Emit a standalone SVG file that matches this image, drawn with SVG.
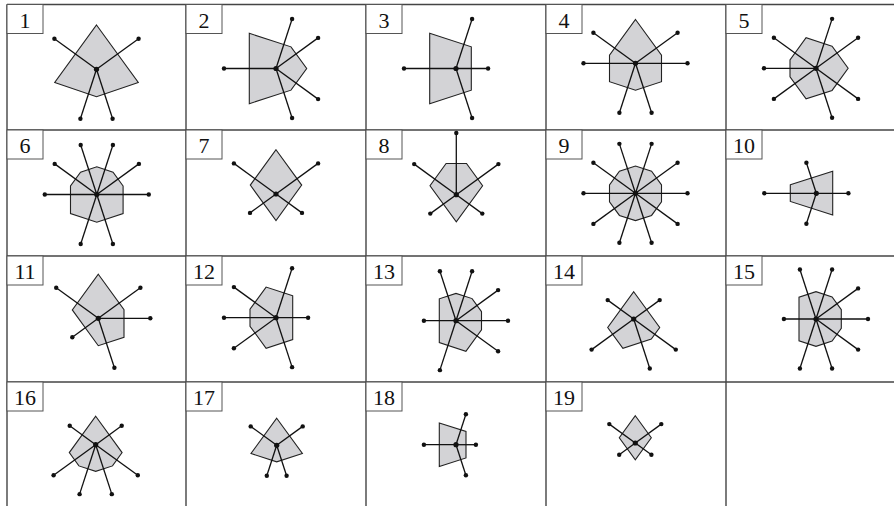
<svg xmlns="http://www.w3.org/2000/svg" width="894" height="506" viewBox="0 0 894 506">
<style>
.grid{stroke:#444;stroke-width:1.4;fill:none}
.lab{fill:#fff;stroke:#555;stroke-width:1}
.num{font-family:"Liberation Serif","Times New Roman",serif;font-size:22px;fill:#111;text-anchor:middle}
.poly{fill:#d3d3d6;stroke:#222;stroke-width:1.1;stroke-linejoin:miter}
.sp line{stroke:#111;stroke-width:1.3}
.dot{fill:#111}
</style>
<rect width="894" height="506" fill="#fff"/>
<g id="grid">
<line class="grid" x1="7" y1="4.5" x2="894" y2="4.5"/>
<line class="grid" x1="7" y1="130" x2="894" y2="130"/>
<line class="grid" x1="7" y1="256" x2="894" y2="256"/>
<line class="grid" x1="7" y1="382" x2="894" y2="382"/>
<line class="grid" x1="7" y1="4.5" x2="7" y2="506"/>
<line class="grid" x1="186" y1="4.5" x2="186" y2="506"/>
<line class="grid" x1="366" y1="4.5" x2="366" y2="506"/>
<line class="grid" x1="546" y1="4.5" x2="546" y2="506"/>
<line class="grid" x1="726" y1="4.5" x2="726" y2="506"/>
</g>

<g id="cell-1">
<rect class="lab" x="7" y="4.5" width="36" height="29"/><text class="num" x="25" y="27.5">1</text>
<polygon class="poly" points="96.5,25 138.3,82.5 96.5,96.7 54.7,82.5"/>
<g class="sp"><line x1="96.5" y1="69.3" x2="54.4" y2="38.7"/><line x1="96.5" y1="69.3" x2="138.6" y2="38.7"/><line x1="96.5" y1="69.3" x2="80.4" y2="118.8"/><line x1="96.5" y1="69.3" x2="112.6" y2="118.8"/></g>
<g class="dot"><circle cx="96.5" cy="69.3" r="2.6"/><circle cx="54.4" cy="38.7" r="2.2"/><circle cx="138.6" cy="38.7" r="2.2"/><circle cx="80.4" cy="118.8" r="2.2"/><circle cx="112.6" cy="118.8" r="2.2"/></g>
</g>

<g id="cell-2">
<rect class="lab" x="186" y="4.5" width="36" height="29"/><text class="num" x="204" y="27.5">2</text>
<polygon class="poly" points="249.3,33.3 291,46.85 306.7,68.5 291,90.15 249.3,103.7"/>
<g class="sp"><line x1="276" y1="68.5" x2="292.1" y2="19.05"/><line x1="276" y1="68.5" x2="318.1" y2="37.9"/><line x1="276" y1="68.5" x2="224" y2="68.5"/><line x1="276" y1="68.5" x2="318.1" y2="99.1"/><line x1="276" y1="68.5" x2="292.1" y2="117.95"/></g>
<g class="dot"><circle cx="276" cy="68.5" r="2.6"/><circle cx="292.1" cy="19.05" r="2.2"/><circle cx="318.1" cy="37.9" r="2.2"/><circle cx="224" cy="68.5" r="2.2"/><circle cx="318.1" cy="99.1" r="2.2"/><circle cx="292.1" cy="117.95" r="2.2"/></g>
</g>

<g id="cell-3">
<rect class="lab" x="366" y="4.5" width="36" height="29"/><text class="num" x="384" y="27.5">3</text>
<polygon class="poly" points="429.7,33.3 471.3,46.8 471.3,90.2 429.7,103.7"/>
<g class="sp"><line x1="456" y1="68.5" x2="472.1" y2="19.05"/><line x1="456" y1="68.5" x2="404" y2="68.5"/><line x1="456" y1="68.5" x2="488.1" y2="68.5"/><line x1="456" y1="68.5" x2="472.1" y2="117.95"/></g>
<g class="dot"><circle cx="456" cy="68.5" r="2.6"/><circle cx="472.1" cy="19.05" r="2.2"/><circle cx="404" cy="68.5" r="2.2"/><circle cx="488.1" cy="68.5" r="2.2"/><circle cx="472.1" cy="117.95" r="2.2"/></g>
</g>

<g id="cell-4">
<rect class="lab" x="546" y="4.5" width="36" height="29"/><text class="num" x="564" y="27.5">4</text>
<polygon class="poly" points="635.5,19.5 661.5,55.3 661.5,81.7 635.5,90.2 609.5,81.7 609.5,55.3"/>
<g class="sp"><line x1="635.5" y1="63.3" x2="593.4" y2="32.7"/><line x1="635.5" y1="63.3" x2="677.6" y2="32.7"/><line x1="635.5" y1="63.3" x2="583.5" y2="63.3"/><line x1="635.5" y1="63.3" x2="687.5" y2="63.3"/><line x1="635.5" y1="63.3" x2="619.4" y2="112.8"/><line x1="635.5" y1="63.3" x2="651.6" y2="112.8"/></g>
<g class="dot"><circle cx="635.5" cy="63.3" r="2.6"/><circle cx="593.4" cy="32.7" r="2.2"/><circle cx="677.6" cy="32.7" r="2.2"/><circle cx="583.5" cy="63.3" r="2.2"/><circle cx="687.5" cy="63.3" r="2.2"/><circle cx="619.4" cy="112.8" r="2.2"/><circle cx="651.6" cy="112.8" r="2.2"/></g>
</g>

<g id="cell-5">
<rect class="lab" x="726" y="4.5" width="36" height="29"/><text class="num" x="744" y="27.5">5</text>
<polygon class="poly" points="832.07,46.18 806.07,37.73 790,59.85 790,76.75 806.07,98.87 832.07,90.42 848.14,68.3"/>
<g class="sp"><line x1="816" y1="68.3" x2="832.1" y2="18.85"/><line x1="816" y1="68.3" x2="773.9" y2="37.7"/><line x1="816" y1="68.3" x2="858.1" y2="37.7"/><line x1="816" y1="68.3" x2="764" y2="68.3"/><line x1="816" y1="68.3" x2="773.9" y2="98.9"/><line x1="816" y1="68.3" x2="858.1" y2="98.9"/><line x1="816" y1="68.3" x2="832.1" y2="117.75"/></g>
<g class="dot"><circle cx="816" cy="68.3" r="2.6"/><circle cx="832.1" cy="18.85" r="2.2"/><circle cx="773.9" cy="37.7" r="2.2"/><circle cx="858.1" cy="37.7" r="2.2"/><circle cx="764" cy="68.3" r="2.2"/><circle cx="773.9" cy="98.9" r="2.2"/><circle cx="858.1" cy="98.9" r="2.2"/><circle cx="832.1" cy="117.75" r="2.2"/></g>
</g>

<g id="cell-6">
<rect class="lab" x="7" y="130" width="36" height="29"/><text class="num" x="25" y="153">6</text>
<polygon class="poly" points="123.1,185.96 113.05,172.13 96.8,166.85 80.55,172.13 70.5,185.96 70.5,213.61 96.8,222.15 123.1,213.61"/>
<g class="sp"><line x1="96.8" y1="194.5" x2="148.8" y2="194.5"/><line x1="96.8" y1="194.5" x2="138.9" y2="163.9"/><line x1="96.8" y1="194.5" x2="112.9" y2="145.05"/><line x1="96.8" y1="194.5" x2="80.7" y2="145.05"/><line x1="96.8" y1="194.5" x2="54.7" y2="163.9"/><line x1="96.8" y1="194.5" x2="44.8" y2="194.5"/><line x1="96.8" y1="194.5" x2="80.7" y2="243.95"/><line x1="96.8" y1="194.5" x2="112.9" y2="243.95"/></g>
<g class="dot"><circle cx="96.8" cy="194.5" r="2.6"/><circle cx="148.8" cy="194.5" r="2.2"/><circle cx="138.9" cy="163.9" r="2.2"/><circle cx="112.9" cy="145.05" r="2.2"/><circle cx="80.7" cy="145.05" r="2.2"/><circle cx="54.7" cy="163.9" r="2.2"/><circle cx="44.8" cy="194.5" r="2.2"/><circle cx="80.7" cy="243.95" r="2.2"/><circle cx="112.9" cy="243.95" r="2.2"/></g>
</g>

<g id="cell-7">
<rect class="lab" x="186" y="130" width="36" height="29"/><text class="num" x="204" y="153">7</text>
<polygon class="poly" points="276,149.7 301.7,185.1 276,220.5 250.3,185.1"/>
<g class="sp"><line x1="276" y1="194" x2="233.9" y2="163.4"/><line x1="276" y1="194" x2="318.1" y2="163.4"/><line x1="276" y1="194" x2="250" y2="212.9"/><line x1="276" y1="194" x2="302" y2="212.9"/></g>
<g class="dot"><circle cx="276" cy="194" r="2.6"/><circle cx="233.9" cy="163.4" r="2.2"/><circle cx="318.1" cy="163.4" r="2.2"/><circle cx="250" cy="212.9" r="2.2"/><circle cx="302" cy="212.9" r="2.2"/></g>
</g>

<g id="cell-8">
<rect class="lab" x="366" y="130" width="36" height="29"/><text class="num" x="384" y="153">8</text>
<polygon class="poly" points="446.1,163.5 466.5,163.5 482.6,185.7 456.3,221.9 430,185.7"/>
<g class="sp"><line x1="456.3" y1="194.7" x2="456.3" y2="133"/><line x1="456.3" y1="194.7" x2="414.2" y2="164.1"/><line x1="456.3" y1="194.7" x2="498.4" y2="164.1"/><line x1="456.3" y1="194.7" x2="430.3" y2="213.6"/><line x1="456.3" y1="194.7" x2="482.3" y2="213.6"/></g>
<g class="dot"><circle cx="456.3" cy="194.7" r="2.6"/><circle cx="456.3" cy="133" r="2.2"/><circle cx="414.2" cy="164.1" r="2.2"/><circle cx="498.4" cy="164.1" r="2.2"/><circle cx="430.3" cy="213.6" r="2.2"/><circle cx="482.3" cy="213.6" r="2.2"/></g>
</g>

<g id="cell-9">
<rect class="lab" x="546" y="130" width="36" height="29"/><text class="num" x="564" y="153">9</text>
<polygon class="poly" points="661.5,184.85 651.57,171.18 635.5,165.96 619.43,171.18 609.5,184.85 609.5,201.75 619.43,215.42 635.5,220.64 651.57,215.42 661.5,201.75"/>
<g class="sp"><line x1="635.5" y1="193.3" x2="687.5" y2="193.3"/><line x1="635.5" y1="193.3" x2="677.6" y2="162.7"/><line x1="635.5" y1="193.3" x2="651.6" y2="143.85"/><line x1="635.5" y1="193.3" x2="619.4" y2="143.85"/><line x1="635.5" y1="193.3" x2="593.4" y2="162.7"/><line x1="635.5" y1="193.3" x2="583.5" y2="193.3"/><line x1="635.5" y1="193.3" x2="593.4" y2="223.9"/><line x1="635.5" y1="193.3" x2="619.4" y2="242.75"/><line x1="635.5" y1="193.3" x2="651.6" y2="242.75"/><line x1="635.5" y1="193.3" x2="677.6" y2="223.9"/></g>
<g class="dot"><circle cx="635.5" cy="193.3" r="2.6"/><circle cx="687.5" cy="193.3" r="2.2"/><circle cx="677.6" cy="162.7" r="2.2"/><circle cx="651.6" cy="143.85" r="2.2"/><circle cx="619.4" cy="143.85" r="2.2"/><circle cx="593.4" cy="162.7" r="2.2"/><circle cx="583.5" cy="193.3" r="2.2"/><circle cx="593.4" cy="223.9" r="2.2"/><circle cx="619.4" cy="242.75" r="2.2"/><circle cx="651.6" cy="242.75" r="2.2"/><circle cx="677.6" cy="223.9" r="2.2"/></g>
</g>

<g id="cell-10">
<rect class="lab" x="726" y="130" width="36" height="29"/><text class="num" x="744" y="153">10</text>
<polygon class="poly" points="790.3,184.8 832.7,171.2 832.7,215 790.3,201.4"/>
<g class="sp"><line x1="816.3" y1="193.3" x2="764.3" y2="193.3"/><line x1="816.3" y1="193.3" x2="848.4" y2="193.3"/><line x1="816.3" y1="193.3" x2="806.4" y2="162.8"/><line x1="816.3" y1="193.3" x2="806.4" y2="223.8"/></g>
<g class="dot"><circle cx="816.3" cy="193.3" r="2.6"/><circle cx="764.3" cy="193.3" r="2.2"/><circle cx="848.4" cy="193.3" r="2.2"/><circle cx="806.4" cy="162.8" r="2.2"/><circle cx="806.4" cy="223.8" r="2.2"/></g>
</g>

<g id="cell-11">
<rect class="lab" x="7" y="256" width="36" height="29"/><text class="num" x="25" y="279">11</text>
<polygon class="poly" points="98.3,274.3 124,309.7 124,337.3 98.3,345.7 72.3,309.9"/>
<g class="sp"><line x1="98.3" y1="318.3" x2="56.2" y2="287.7"/><line x1="98.3" y1="318.3" x2="140.4" y2="287.7"/><line x1="98.3" y1="318.3" x2="150.3" y2="318.3"/><line x1="98.3" y1="318.3" x2="72.3" y2="337.2"/><line x1="98.3" y1="318.3" x2="114.4" y2="367.75"/></g>
<g class="dot"><circle cx="98.3" cy="318.3" r="2.6"/><circle cx="56.2" cy="287.7" r="2.2"/><circle cx="140.4" cy="287.7" r="2.2"/><circle cx="150.3" cy="318.3" r="2.2"/><circle cx="72.3" cy="337.2" r="2.2"/><circle cx="114.4" cy="367.75" r="2.2"/></g>
</g>

<g id="cell-12">
<rect class="lab" x="186" y="256" width="36" height="29"/><text class="num" x="204" y="279">12</text>
<polygon class="poly" points="292.7,295.8 266.1,287.1 250,309.3 250,326.2 266.1,348.3 292.7,339.6"/>
<g class="sp"><line x1="276" y1="317.7" x2="292.1" y2="268.25"/><line x1="276" y1="317.7" x2="233.9" y2="287.1"/><line x1="276" y1="317.7" x2="308.1" y2="317.7"/><line x1="276" y1="317.7" x2="224" y2="317.7"/><line x1="276" y1="317.7" x2="233.9" y2="348.3"/><line x1="276" y1="317.7" x2="292.1" y2="367.15"/></g>
<g class="dot"><circle cx="276" cy="317.7" r="2.6"/><circle cx="292.1" cy="268.25" r="2.2"/><circle cx="233.9" cy="287.1" r="2.2"/><circle cx="308.1" cy="317.7" r="2.2"/><circle cx="224" cy="317.7" r="2.2"/><circle cx="233.9" cy="348.3" r="2.2"/><circle cx="292.1" cy="367.15" r="2.2"/></g>
</g>

<g id="cell-13">
<rect class="lab" x="366" y="256" width="36" height="29"/><text class="num" x="384" y="279">13</text>
<polygon class="poly" points="481.5,311.6 472.1,298.6 456,293.4 439.3,298.8 439.3,342.6 465.9,351.3 481.5,329.8"/>
<g class="sp"><line x1="456" y1="320.7" x2="439.9" y2="271.25"/><line x1="456" y1="320.7" x2="472.1" y2="271.25"/><line x1="456" y1="320.7" x2="498.1" y2="290.1"/><line x1="456" y1="320.7" x2="423.9" y2="320.7"/><line x1="456" y1="320.7" x2="508" y2="320.7"/><line x1="456" y1="320.7" x2="498.1" y2="351.3"/><line x1="456" y1="320.7" x2="439.9" y2="370.15"/></g>
<g class="dot"><circle cx="456" cy="320.7" r="2.6"/><circle cx="439.9" cy="271.25" r="2.2"/><circle cx="472.1" cy="271.25" r="2.2"/><circle cx="498.1" cy="290.1" r="2.2"/><circle cx="423.9" cy="320.7" r="2.2"/><circle cx="508" cy="320.7" r="2.2"/><circle cx="498.1" cy="351.3" r="2.2"/><circle cx="439.9" cy="370.15" r="2.2"/></g>
</g>

<g id="cell-14">
<rect class="lab" x="546" y="256" width="36" height="29"/><text class="num" x="564" y="279">14</text>
<polygon class="poly" points="633.7,291.8 659.7,327.5 651.3,339.1 622.9,348.3 607.7,327.5"/>
<g class="sp"><line x1="633.7" y1="319" x2="607.7" y2="300.1"/><line x1="633.7" y1="319" x2="659.7" y2="300.1"/><line x1="633.7" y1="319" x2="591.6" y2="349.6"/><line x1="633.7" y1="319" x2="675.8" y2="349.6"/><line x1="633.7" y1="319" x2="649.8" y2="368.45"/></g>
<g class="dot"><circle cx="633.7" cy="319" r="2.6"/><circle cx="607.7" cy="300.1" r="2.2"/><circle cx="659.7" cy="300.1" r="2.2"/><circle cx="591.6" cy="349.6" r="2.2"/><circle cx="675.8" cy="349.6" r="2.2"/><circle cx="649.8" cy="368.45" r="2.2"/></g>
</g>

<g id="cell-15">
<rect class="lab" x="726" y="256" width="36" height="29"/><text class="num" x="744" y="279">15</text>
<polygon class="poly" points="841.3,309.6 832.1,296.9 816,291.7 799,297.2 799,340.8 816,346.3 832.1,341.1 841.3,328.4"/>
<g class="sp"><line x1="816" y1="319" x2="799.9" y2="269.55"/><line x1="816" y1="319" x2="832.1" y2="269.55"/><line x1="816" y1="319" x2="858.1" y2="288.4"/><line x1="816" y1="319" x2="783.9" y2="319"/><line x1="816" y1="319" x2="868" y2="319"/><line x1="816" y1="319" x2="858.1" y2="349.6"/><line x1="816" y1="319" x2="799.9" y2="368.45"/><line x1="816" y1="319" x2="832.1" y2="368.45"/></g>
<g class="dot"><circle cx="816" cy="319" r="2.6"/><circle cx="799.9" cy="269.55" r="2.2"/><circle cx="832.1" cy="269.55" r="2.2"/><circle cx="858.1" cy="288.4" r="2.2"/><circle cx="783.9" cy="319" r="2.2"/><circle cx="868" cy="319" r="2.2"/><circle cx="858.1" cy="349.6" r="2.2"/><circle cx="799.9" cy="368.45" r="2.2"/><circle cx="832.1" cy="368.45" r="2.2"/></g>
</g>

<g id="cell-16">
<rect class="lab" x="7" y="382" width="36" height="29"/><text class="num" x="25" y="405">16</text>
<polygon class="poly" points="95.7,416.3 122.1,452.6 112.5,465.9 95.7,471.3 78.9,465.9 69.3,452.6"/>
<g class="sp"><line x1="95.7" y1="444.7" x2="69.7" y2="425.8"/><line x1="95.7" y1="444.7" x2="121.7" y2="425.8"/><line x1="95.7" y1="444.7" x2="53.6" y2="475.3"/><line x1="95.7" y1="444.7" x2="137.8" y2="475.3"/><line x1="95.7" y1="444.7" x2="79.6" y2="494.15"/><line x1="95.7" y1="444.7" x2="111.8" y2="494.15"/></g>
<g class="dot"><circle cx="95.7" cy="444.7" r="2.6"/><circle cx="69.7" cy="425.8" r="2.2"/><circle cx="121.7" cy="425.8" r="2.2"/><circle cx="53.6" cy="475.3" r="2.2"/><circle cx="137.8" cy="475.3" r="2.2"/><circle cx="79.6" cy="494.15" r="2.2"/><circle cx="111.8" cy="494.15" r="2.2"/></g>
</g>

<g id="cell-17">
<rect class="lab" x="186" y="382" width="36" height="29"/><text class="num" x="204" y="405">17</text>
<polygon class="poly" points="276.7,418.2 302.4,453.5 276.7,461.8 251,453.5"/>
<g class="sp"><line x1="276.7" y1="445.3" x2="250.7" y2="426.4"/><line x1="276.7" y1="445.3" x2="302.7" y2="426.4"/><line x1="276.7" y1="445.3" x2="266.8" y2="475.8"/><line x1="276.7" y1="445.3" x2="286.6" y2="475.8"/></g>
<g class="dot"><circle cx="276.7" cy="445.3" r="2.6"/><circle cx="250.7" cy="426.4" r="2.2"/><circle cx="302.7" cy="426.4" r="2.2"/><circle cx="266.8" cy="475.8" r="2.2"/><circle cx="286.6" cy="475.8" r="2.2"/></g>
</g>

<g id="cell-18">
<rect class="lab" x="366" y="382" width="36" height="29"/><text class="num" x="384" y="405">18</text>
<polygon class="poly" points="439.3,423 466,431.5 466,457.9 439.3,466.4"/>
<g class="sp"><line x1="456" y1="444.7" x2="465.9" y2="414.2"/><line x1="456" y1="444.7" x2="423.9" y2="444.7"/><line x1="456" y1="444.7" x2="475.9" y2="444.7"/><line x1="456" y1="444.7" x2="465.9" y2="475.2"/></g>
<g class="dot"><circle cx="456" cy="444.7" r="2.6"/><circle cx="465.9" cy="414.2" r="2.2"/><circle cx="423.9" cy="444.7" r="2.2"/><circle cx="475.9" cy="444.7" r="2.2"/><circle cx="465.9" cy="475.2" r="2.2"/></g>
</g>

<g id="cell-19">
<rect class="lab" x="546" y="382" width="36" height="29"/><text class="num" x="564" y="405">19</text>
<polygon class="poly" points="635.3,415.7 651.3,437.7 635.3,459.7 619.3,437.7"/>
<g class="sp"><line x1="635.3" y1="443" x2="609.3" y2="424.1"/><line x1="635.3" y1="443" x2="661.3" y2="424.1"/><line x1="635.3" y1="443" x2="619.2" y2="454.7"/><line x1="635.3" y1="443" x2="651.4" y2="454.7"/></g>
<g class="dot"><circle cx="635.3" cy="443" r="2.6"/><circle cx="609.3" cy="424.1" r="2.2"/><circle cx="661.3" cy="424.1" r="2.2"/><circle cx="619.2" cy="454.7" r="2.2"/><circle cx="651.4" cy="454.7" r="2.2"/></g>
</g>
</svg>
